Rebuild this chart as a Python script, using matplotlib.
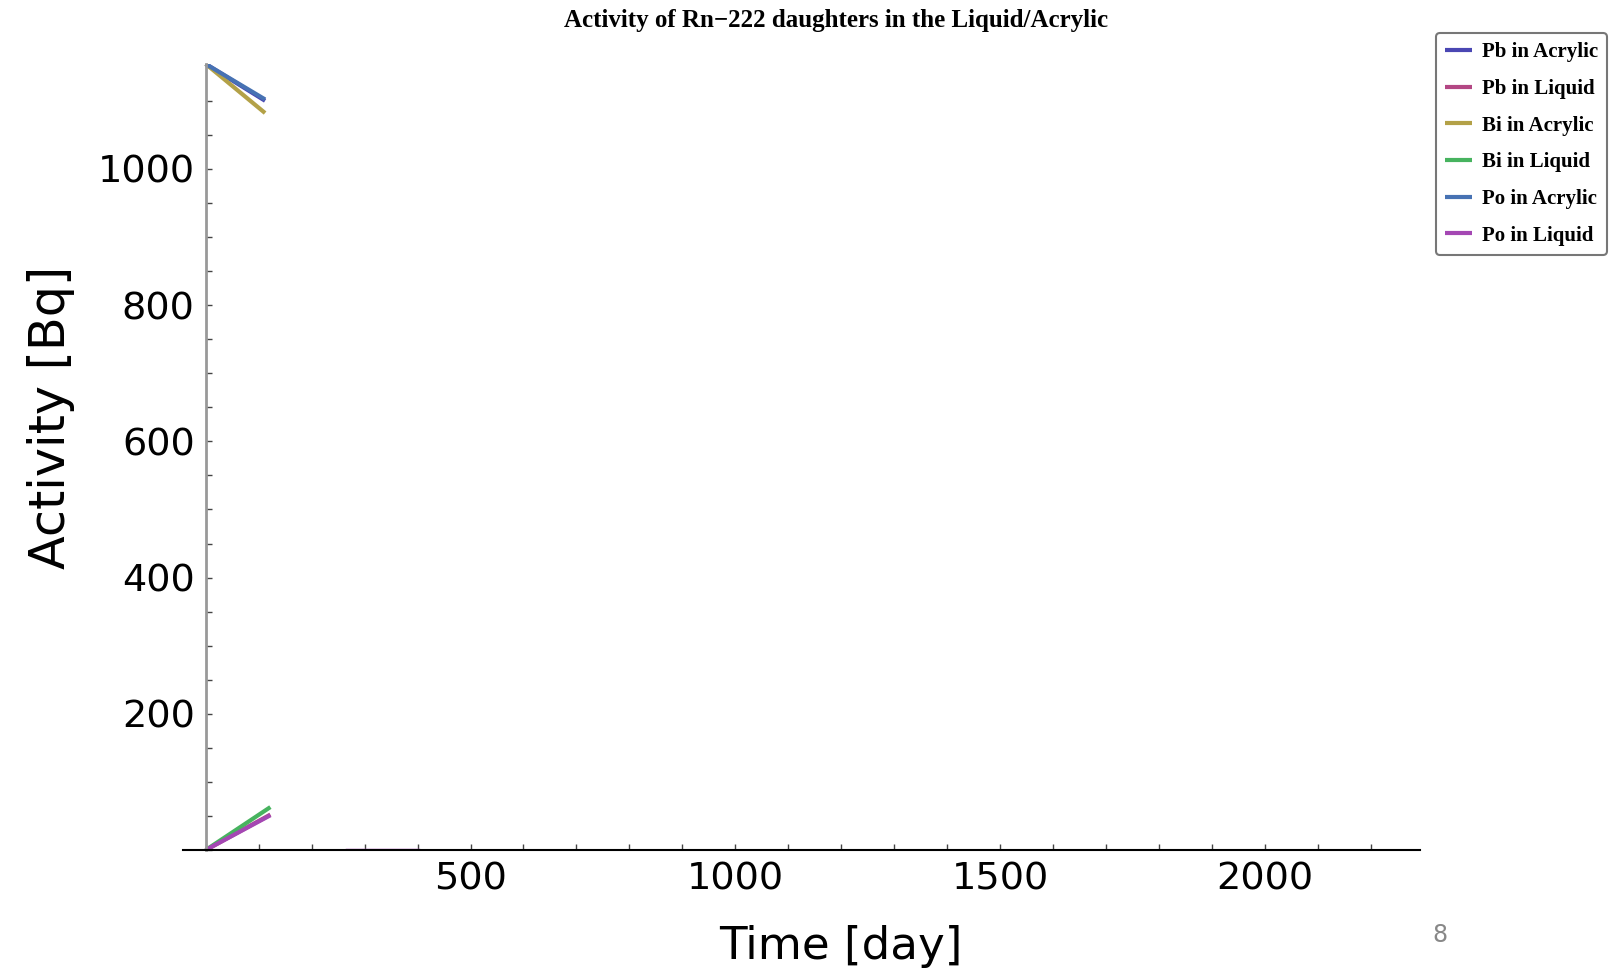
import numpy as np
import matplotlib.pyplot as plt
from matplotlib.ticker import MultipleLocator
import colorsys

# data (time in days, activity in Bq)
labels = ["Pb in Acrylic", "Pb in Liquid", "Bi in Acrylic", "Bi in Liquid", "Po in Acrylic", "Po in Liquid"]
hues = [0.67, 0.906, 0.14, 0.37, 0.6, 0.81]

t_acr = [0, 112]
t_liq = [0, 122]
pb_acr = [1154, 1100]
pb_liq = [0, 52]
bi_acr = [1154, 1082]
bi_liq = [0, 63]
po_acr = [1154, 1102]
po_liq = [0, 51]
t_po_tail = [267, 400]
po_tail = [0, 0]

series = [(t_acr, pb_acr), (t_liq, pb_liq), (t_acr, bi_acr),
          (t_liq, bi_liq), (t_acr, po_acr), (t_liq, po_liq)]

cols = [colorsys.hsv_to_rgb(h, 0.6, 0.7) for h in hues]

fig = plt.figure(figsize=(16.1, 9.69), dpi=100)
ax = fig.add_axes([183/1610, 1-850/969, (1420-183)/1610, (850-64)/969])

for (t, v), c, lab in zip(series, cols, labels):
    ax.plot(t, v, color=c, lw=3, label=lab, solid_capstyle='butt')
ax.plot(t_po_tail, po_tail, color=cols[5], lw=2.5)

ax.set_xlim(-43, 2293)
ax.set_ylim(0, 1154)

for s in ['top', 'right']:
    ax.spines[s].set_visible(False)
ax.spines['left'].set_position(('data', 0))
ax.spines['left'].set_color('#999999')
ax.spines['left'].set_linewidth(2)
ax.spines['bottom'].set_color('black')
ax.spines['bottom'].set_linewidth(1.5)

ax.xaxis.set_minor_locator(MultipleLocator(100))
ax.yaxis.set_minor_locator(MultipleLocator(50))
ax.set_xticks([500, 1000, 1500, 2000])
ax.set_yticks([200, 400, 600, 800, 1000])
ax.tick_params(which='both', direction='in', length=4, width=1, color='#444444',
               labelsize=27.5, pad=8)

ax.set_xlabel("Time [day]", fontsize=32.5)
ax.set_ylabel("Activity [Bq]", fontsize=35.5)
ax.yaxis.set_label_coords(-0.087, 0.55)
ax.xaxis.set_label_coords(0.532, -0.096)

fig.text(0.519, 0.979, "Activity of Rn\u2212222 daughters in the Liquid/Acrylic",
         ha='center', va='center', family='Liberation Serif', weight='bold', fontsize=18)

leg = ax.legend(loc='upper left', bbox_to_anchor=(1436/1610, 1-33/969), bbox_transform=fig.transFigure,
                prop={'family': 'Liberation Serif', 'weight': 'bold', 'size': 15},
                handlelength=1.3, handletextpad=0.45, labelspacing=0.8, borderpad=0.45,
                borderaxespad=0, fancybox=True, edgecolor='#777777', framealpha=1)
leg.get_frame().set_linewidth(1.5)

fig.text(1440/1610, 1-935/969, "8", color='#888888', fontsize=17, ha='center', va='center')

fig.savefig("out.png", dpi=100)
